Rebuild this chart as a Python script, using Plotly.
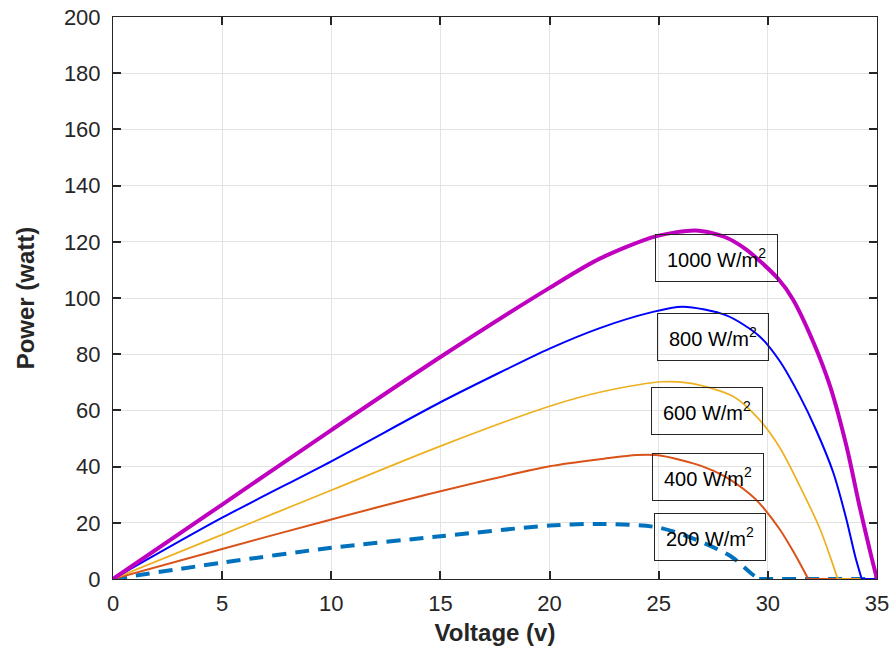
import plotly.graph_objects as go

# ---- data ----
v1000 = [0, 5, 10, 15, 20, 22.3, 24.9, 26.7, 28.0, 29.0, 30.5, 31.15, 32.1, 32.85, 33.6, 34.2, 34.7, 35.0]
p1000 = [0, 26.5, 53.0, 79.0, 103.6, 114.0, 122.0, 124.0, 121.8, 117.3, 106.6, 99.5, 84.0, 68.6, 47.3, 25.9, 9.3, 0]

v800 = [0, 5, 10, 15, 17.7, 20, 22.3, 24.6, 26.1, 28.1, 29.6, 30.55, 31.47, 32.2, 33.0, 33.6, 34.0, 34.3, 35]
p800 = [0, 21.8, 41.9, 62.9, 73.4, 82.0, 89.3, 94.8, 96.9, 93.8, 86.5, 77.5, 65.0, 53.2, 37.8, 21.2, 8.1, 0, 0]

v600 = [0, 5, 10, 15, 20, 22.5, 25.2, 26.5, 28.4, 29.6, 30.55, 31.47, 32.4, 32.9, 33.2, 35]
p600 = [0, 15.8, 31.6, 47.3, 61.5, 66.8, 70.2, 69.6, 65.0, 56.8, 46.7, 33.0, 17.6, 6.9, 0, 0]

v400 = [0, 5, 10, 15, 20, 22.5, 24.0, 25.0, 27.0, 28.0, 29.2, 29.6, 30.55, 31.2, 31.85, 35]
p400 = [0, 10.7, 21.2, 31.2, 40.1, 42.8, 44.1, 44.0, 40.1, 36.6, 30.1, 27.1, 17.6, 9.3, 0, 0]

v200 = [0, 5, 10, 15, 20, 22.4, 25.0, 26.7, 28.3, 29.3, 29.6, 35]
p200 = [0, 5.8, 11.1, 15.2, 19.0, 19.6, 18.3, 14.0, 8.1, 1.6, 0, 0]

labels = ["1000 W/m<sup>2</sup>", "800 W/m<sup>2</sup>", "600 W/m<sup>2</sup>",
          "400 W/m<sup>2</sup>", "200 W/m<sup>2</sup>"]
label_x = [27.65, 27.47, 27.23, 27.28, 27.36]
label_y = [114.1, 86.1, 59.7, 36.2, 14.9]

x_ticks = [0, 5, 10, 15, 20, 25, 30, 35]
y_ticks = [0, 20, 40, 60, 80, 100, 120, 140, 160, 180, 200]

FONT = "Arial, 'Liberation Sans', Helvetica, sans-serif"
AX = "#262626"

series = [
    (v200, p200, "#0072BD", 4, "14px,9px"),
    (v400, p400, "#D95319", 2, "solid"),
    (v600, p600, "#EDB120", 1.7, "solid"),
    (v800, p800, "#0000FF", 2, "solid"),
    (v1000, p1000, "#BF00BF", 4, "solid"),
]

fig = go.Figure()
for v, p, col, w, dash in series:
    # curved part up to the open-circuit voltage (first zero after the peak)
    k = next(i for i in range(1, len(p)) if p[i] == 0)
    fig.add_trace(go.Scatter(x=v[:k + 1], y=p[:k + 1], mode="lines",
                             line=dict(color=col, width=w, dash=dash,
                                       shape="spline", smoothing=0.8),
                             showlegend=False, hoverinfo="skip"))
    if k < len(p) - 1:
        fig.add_trace(go.Scatter(x=v[k:], y=p[k:], mode="lines",
                                 line=dict(color=col, width=w, dash=dash),
                                 showlegend=False, hoverinfo="skip"))

for t, x, y in zip(labels, label_x, label_y):
    fig.add_annotation(x=x, y=y, xref="x", yref="y", text=t, showarrow=False,
                       font=dict(family=FONT, size=20, color="#000000"),
                       bordercolor=AX, borderwidth=1, borderpad=11, height=24,
                       bgcolor="rgba(0,0,0,0)")

axis_common = dict(
    showgrid=True, gridcolor="#E3E3E3", gridwidth=1,
    zeroline=False, showline=True, linecolor=AX, linewidth=1,
    mirror="ticks", ticks="inside", ticklen=8, tickwidth=1.5, tickcolor=AX,
    tickfont=dict(family=FONT, size=22, color=AX),
)

fig.update_xaxes(range=[0, 35], tickvals=x_ticks, ticktext=[str(t) for t in x_ticks],
                 title=dict(text="<b>Voltage (v)</b>", standoff=8,
                            font=dict(family=FONT, size=24, color=AX)),
                 ticklabelstandoff=5, **axis_common)
fig.update_yaxes(range=[0, 200], tickvals=y_ticks, ticktext=[str(t) for t in y_ticks],
                 title=dict(text="<b>Power (watt)</b>", standoff=22,
                            font=dict(family=FONT, size=24, color=AX)),
                 ticklabelstandoff=7, **axis_common)

fig.update_layout(width=891, height=651,
                  margin=dict(l=113, r=14, t=17, b=72, autoexpand=False),
                  paper_bgcolor="white", plot_bgcolor="white",
                  font=dict(family=FONT))

fig.write_html("out.html", config={"displayModeBar": False},
               post_script="document.body.style.margin='0';document.body.style.overflow='hidden';")
